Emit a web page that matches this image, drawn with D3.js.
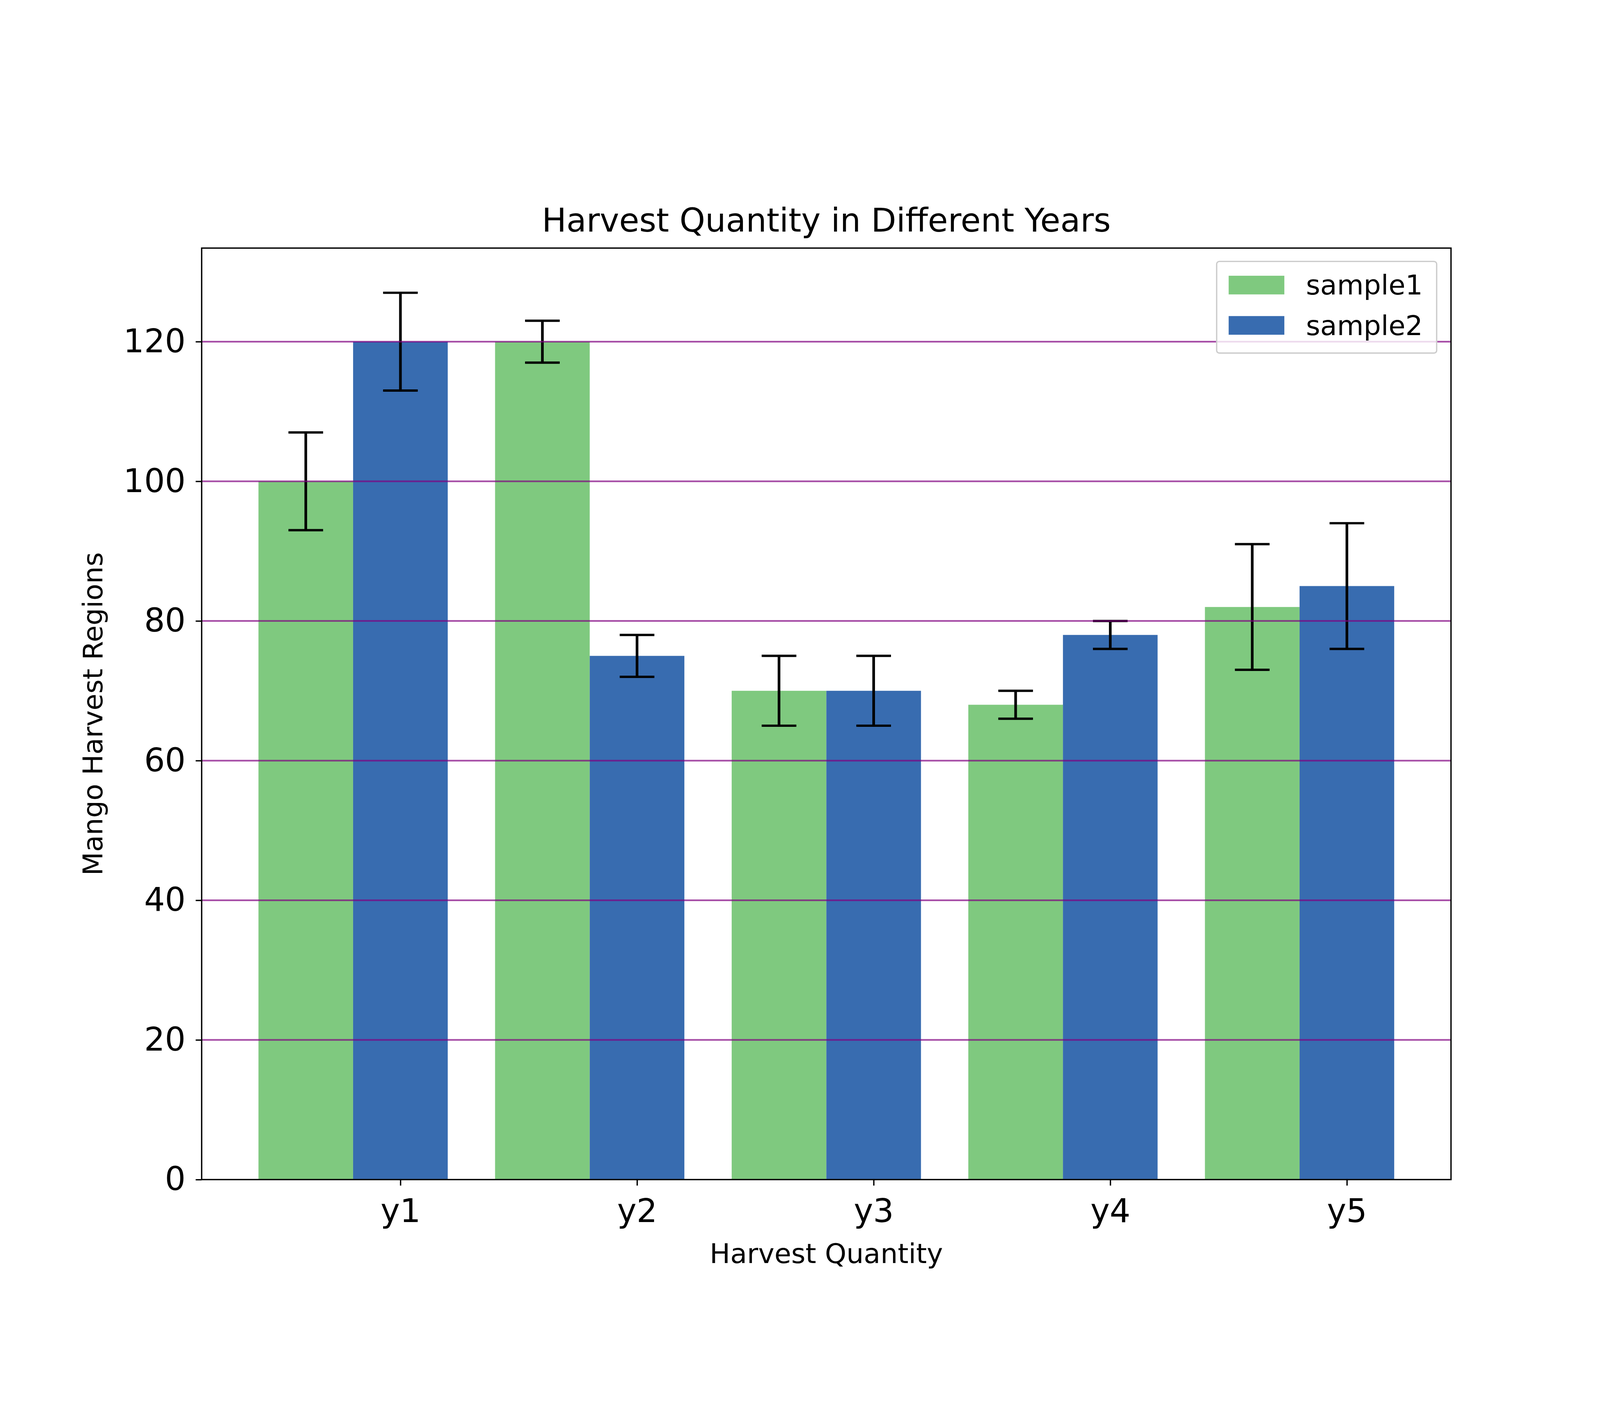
<!DOCTYPE html>
<html>
<head>
<meta charset="utf-8">
<script src="https://cdn.jsdelivr.net/npm/d3@7"></script>
<style>html,body{margin:0;background:#fff;overflow:hidden;} svg{display:block;} text{font-family:"DejaVu Sans";}</style>
</head>
<body>
<div id="my_dataviz"></div>
<script>
// values
var data = [
  {year: "y1", s1: 100, e1: 7, s2: 120, e2: 7},
  {year: "y2", s1: 120, e1: 3, s2: 75, e2: 3},
  {year: "y3", s1: 70, e1: 5, s2: 70, e2: 5},
  {year: "y4", s1: 68, e1: 2, s2: 78, e2: 2},
  {year: "y5", s1: 82, e1: 9, s2: 85, e2: 9}
];
var colors = {s1: "#7fc97f", s2: "#386cb0"};
var barW = 0.4;

var margin = {top: 435, right: 447, bottom: 370, left: 605},
  width = 4800 - margin.left - margin.right,
  height = 3600 - margin.top - margin.bottom;

// viewBox so the whole figure fits the window whatever its css size
var svg = d3.select("#my_dataviz")
  .append("svg")
    .attr("viewBox", "0 0 4800 3600")
    .attr("preserveAspectRatio", "xMidYMid meet")
    .style("width", "100vw")
    .style("height", "100vh")
  .append("g")
    .attr("transform", "translate(" + margin.left + "," + margin.top + ")");

var x = d3.scaleLinear().domain([-0.44, 4.84]).range([0, width]);
var y = d3.scaleLinear().domain([0, 133.4]).range([height, 0]);

// bars
["s1", "s2"].forEach(function(k, j) {
  svg.selectAll(".bar" + k)
    .data(data)
    .enter()
    .append("rect")
      .attr("x", function(d, i) { return x(i + j * barW - barW / 2); })
      .attr("y", function(d) { return y(d[k]); })
      .attr("width", x(barW) - x(0))
      .attr("height", function(d) { return height - y(d[k]); })
      .attr("fill", colors[k]);
});

// error bars
["1", "2"].forEach(function(n, j) {
  var g = svg.selectAll(".err" + n).data(data).enter().append("g")
    .attr("stroke", "black").attr("stroke-width", 8);
  var cx = function(d, i) { return x(i + j * barW); };
  g.append("line")
    .attr("x1", cx).attr("x2", cx)
    .attr("y1", function(d) { return y(d["s" + n] - d["e" + n]); })
    .attr("y2", function(d) { return y(d["s" + n] + d["e" + n]); });
  [-1, 1].forEach(function(s) {
    g.append("line")
      .attr("x1", function(d, i) { return cx(d, i) - 52; })
      .attr("x2", function(d, i) { return cx(d, i) + 52; })
      .attr("y1", function(d) { return y(d["s" + n] + s * d["e" + n]); })
      .attr("y2", function(d) { return y(d["s" + n] + s * d["e" + n]); })
      .attr("stroke-width", 7);
  });
});

// grid over bars
svg.selectAll(".grid")
  .data(d3.range(20, 121, 20))
  .enter()
  .append("line")
    .attr("x1", 0).attr("x2", width)
    .attr("y1", function(d) { return y(d); })
    .attr("y2", function(d) { return y(d); })
    .attr("stroke", "purple")
    .attr("stroke-opacity", 0.7)
    .attr("stroke-width", 5);

// axes
var xAxis = svg.append("g")
  .attr("transform", "translate(0," + height + ")")
  .call(d3.axisBottom(x)
    .tickValues(data.map(function(d, i) { return i + barW; }))
    .tickFormat(function(d, i) { return data[i].year; })
    .tickSize(18).tickPadding(40));
var yAxis = svg.append("g")
  .call(d3.axisLeft(y).tickValues(d3.range(0, 121, 20)).tickSize(18).tickPadding(30));
[xAxis, yAxis].forEach(function(a) {
  a.select(".domain").remove();
  a.selectAll("line").attr("stroke-width", 4);
  a.selectAll("text").style("font-family", "DejaVu Sans").style("font-size", "98px");
});

svg.append("rect")
  .attr("width", width).attr("height", height)
  .attr("fill", "none").attr("stroke", "black").attr("stroke-width", 4);

// labels
svg.append("text")
  .attr("x", width / 2).attr("y", -50)
  .attr("text-anchor", "middle")
  .style("font-size", "98px")
  .text("Harvest Quantity in Different Years");
svg.append("text")
  .attr("x", width / 2).attr("y", height + 250)
  .attr("text-anchor", "middle")
  .style("font-size", "82px")
  .text("Harvest Quantity");
svg.append("text")
  .attr("transform", "translate(-298," + height / 2 + ")rotate(-90)")
  .attr("text-anchor", "middle")
  .style("font-size", "82px")
  .text("Mango Harvest Regions");

// legend
var lg = svg.append("g").attr("transform", "translate(" + (width - 703) + ",40)");
lg.append("rect")
  .attr("width", 660).attr("height", 275).attr("rx", 8)
  .attr("fill", "white").attr("fill-opacity", 0.8)
  .attr("stroke", "#cccccc").attr("stroke-width", 4);
[["sample1", colors.s1], ["sample2", colors.s2]].forEach(function(l, i) {
  lg.append("rect")
    .attr("x", 36).attr("y", 43 + i * 121)
    .attr("width", 167).attr("height", 56)
    .attr("fill", l[1]);
  lg.append("text")
    .attr("x", 268).attr("y", 71 + i * 121)
    .attr("dy", "0.35em")
    .style("font-size", "82px")
    .text(l[0]);
});
</script>
</body>
</html>
